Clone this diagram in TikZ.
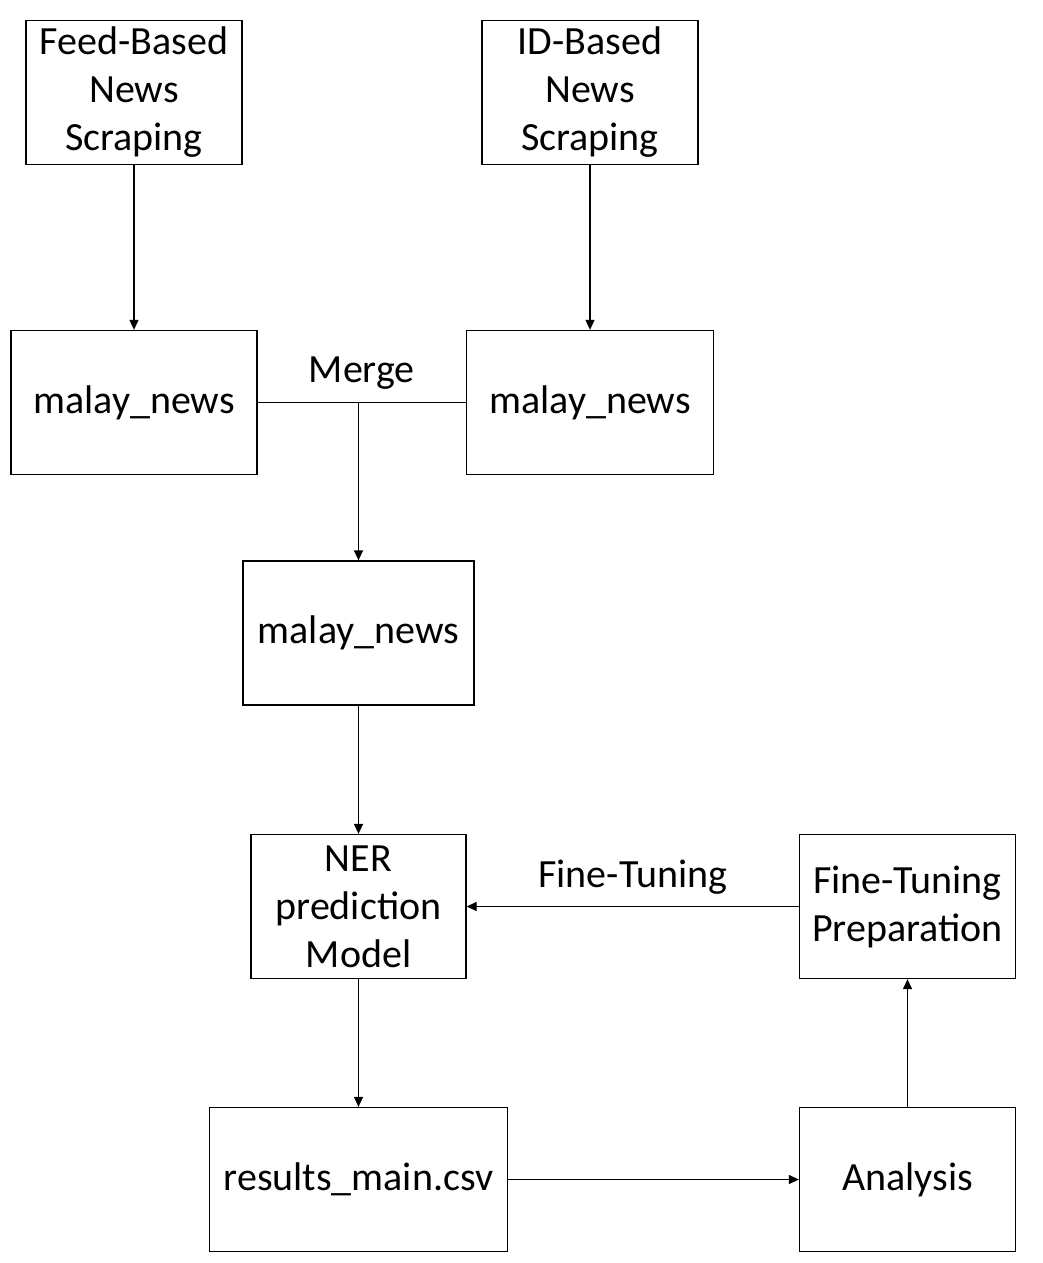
\documentclass[tikz,border=0pt]{standalone}
\usepackage{fontspec}
\setmainfont{Carlito}
\usetikzlibrary{arrows.meta, shapes}
\tikzstyle{arrow} = [-{Triangle[length=10pt,width=9pt]}, line width=1.3pt]
\tikzstyle{link} = [-, line width=1.3pt]
\tikzstyle{block} = [draw, rectangle, line width=1.3pt, align=center, minimum width=216pt, minimum height=144pt, inner sep=0pt, node distance=273pt]

\begin{document}
\begin{tikzpicture}[auto, x=1pt, y=-1pt, font=\fontsize{40}{48}\selectfont]
        \useasboundingbox (0,0) rectangle (1043,1263);
        \node [block] (feedScraping) at (134,92.5) {Feed-Based\\News\\Scraping};
        \node [block, right of=feedScraping, node distance=456pt] (idScraping) {ID-Based\\News\\Scraping};
        \node [block, below of=feedScraping, node distance=310pt, minimum width=246pt] (feedNews) {malay\_news};
        \node [block, below of=idScraping, node distance=310pt, minimum width=247pt] (idNews) {malay\_news};
        \node [block, minimum width=231pt] (mergedNews) at (358.5,633) {malay\_news};
        \node [block, below of=mergedNews, node distance=273.5pt, minimum width=215pt] (nerModel) {NER\\prediction\\Model};
        \node [block, below of=nerModel, minimum width=298pt] (results) {results\_main.csv};
        \node [block, right of=results, node distance=549pt] (analysis) {Analysis};
        \node [block, above of=analysis] (tuningPrep) {Fine-Tuning\\Preparation};
        \coordinate (mergePoint) at (mergedNews.north |- feedNews.east);

        \path [arrow] (feedScraping) edge (feedNews);
        \path [arrow] (idScraping) edge (idNews);
        \path [link] (feedNews) edge node [above=9pt] {Merge} (idNews);
        \path [arrow] (mergePoint) edge (mergedNews);
        \path [arrow] (mergedNews) edge (nerModel);
        \path [arrow] (tuningPrep) edge node [above=8pt, swap] {Fine-Tuning} (nerModel);
        \path [arrow] (nerModel) edge (results);
        \path [arrow] (results) edge (analysis);
        \path [arrow] (analysis) edge (tuningPrep);
    \end{tikzpicture}
\end{document}
